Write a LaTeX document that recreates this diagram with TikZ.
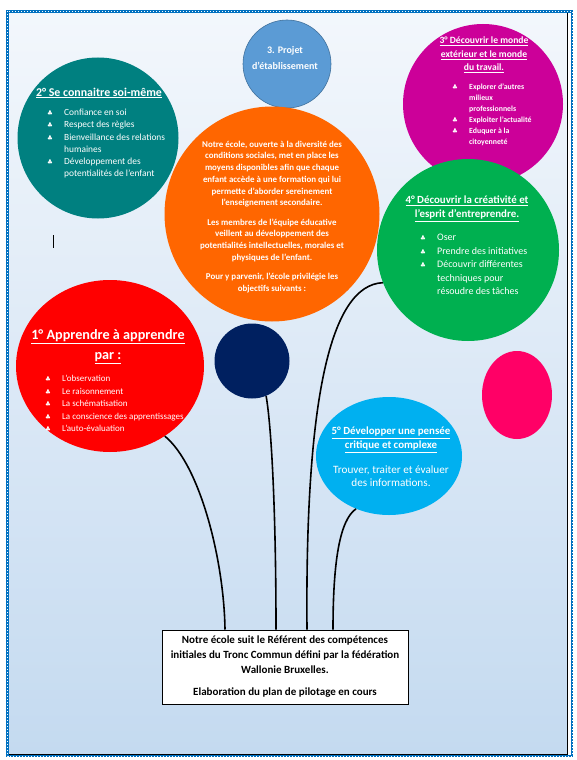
\documentclass[tikz,border=0pt]{standalone}
\usepackage{fontspec}
\setmainfont{Carlito}
\newfontfamily\symfont{DejaVu Sans}
\usetikzlibrary{calc, shapes.geometric}
\definecolor{cadrecol}{RGB}{0, 112, 192}
\definecolor{fondhaut}{RGB}{243, 247, 252}
\definecolor{fondbas}{RGB}{196, 218, 240}
\definecolor{soicol}{RGB}{0, 128, 128}
\definecolor{projetcol}{RGB}{91, 155, 213}
\definecolor{projetbord}{RGB}{65, 113, 156}
\definecolor{mondecol}{RGB}{204, 0, 153}
\definecolor{centrecol}{RGB}{255, 102, 0}
\definecolor{creatcol}{RGB}{0, 176, 80}
\definecolor{apprcol}{RGB}{255, 0, 0}
\definecolor{navycol}{RGB}{0, 32, 96}
\definecolor{rosecol}{RGB}{255, 0, 102}
\definecolor{critcol}{RGB}{0, 176, 240}
\newcommand{\clubsym}{{\symfont\fontsize{6.5}{7}\selectfont ♣}}
\newcommand{\itm}[1]{\makebox[17pt][l]{\clubsym}#1}
\newcommand{\cnt}{\hspace*{17pt}}
\tikzset{
  bulle/.style  = {circle, draw=none, inner sep=0pt},
  ovale/.style  = {ellipse, draw=none, inner sep=0pt},
  titre/.style  = {text=white, align=center, inner sep=0pt},
  liste/.style  = {text=white, align=left, inner sep=0pt, anchor=north west},
  tige/.style   = {draw=black, line width=1.6pt},
  cadre/.style  = {draw=cadrecol, line width=2.6pt},
  motif/.style  = {draw=white, line width=0.9pt, dash pattern=on 1pt off 2pt},
  boite/.style  = {draw=black, line width=1pt, fill=white, align=center,
                   minimum width=246pt, minimum height=74pt, inner sep=0pt},
}
\begin{document}
\begin{tikzpicture}[x=1pt, y=-1pt]
  \useasboundingbox (0,0) rectangle (576,760);

  %% ---------------- page ----------------
  \shade[top color=fondhaut, bottom color=fondbas] (8,12) rectangle (567,754);
  \draw[line width=1pt] (567,12) -- (567,754) -- (8,754);
  \draw[cadre] (7.5,11.5) rectangle (572,756);
  \draw[motif] (7.5,11.5) rectangle (572,756);
  % stray text cursor
  \coordinate (curseur) at (53,235);
  \draw[line width=0.9pt] (curseur) -- ++(0,13);

  %% ---------------- bubbles ----------------
  \node[bulle, fill=soicol, minimum size=161pt] (soi) at (98,138) {};
  \node[bulle, fill=projetcol, draw=projetbord, line width=0.6pt,
        minimum size=88pt] (projet) at (287,64) {};
  \node[bulle, fill=mondecol, minimum size=160pt] (monde) at (483,104) {};
  \node[bulle, fill=centrecol, minimum size=215pt] (centre) at (272,214) {};
  \node[bulle, fill=creatcol, minimum size=182pt] (creat) at (468,250) {};
  \node[ovale, fill=apprcol, minimum width=188pt, minimum height=172pt]
       (apprendre) at (110,366) {};
  \node[bulle, fill=navycol, minimum size=75pt] (navy) at (252,361) {};
  \node[ovale, fill=rosecol, minimum width=70pt, minimum height=88pt]
       (rose) at (517,395) {};
  \node[ovale, fill=critcol, minimum width=146pt, minimum height=118pt]
       (critique) at (389,456) {};

  %% ---------------- texts ----------------
  \node[titre, font={\bfseries\fontsize{11.9}{14}\selectfont}] (soiT) at (99,93)
       {\underline{2° Se connaitre soi-même}};
  \node[liste, font={\fontsize{9.4}{12.2}\selectfont}] (soiL) at (47,109)
       {\itm{Confiance en soi}\\
        \itm{Respect des règles}\\
        \itm{Bienveillance des relations}\\
        \cnt humaines\\
        \itm{Développement des}\\
        \cnt potentialités de l’enfant};

  \node[titre, font={\bfseries\fontsize{10}{16}\selectfont}] (projetT) at (285,58)
       {3. Projet\\d’établissement};

  \node[titre, font={\bfseries\fontsize{9.6}{13.5}\selectfont}] (mondeT) at (484,55)
       {\underline{3° Découvrir le monde}\\
        \underline{extérieur et le monde}\\
        \underline{du travail.}};
  \node[liste, font={\bfseries\fontsize{7.8}{11}\selectfont}] (mondeL) at (452,84)
       {\itm{Explorer d’autres}\\
        \cnt milieux\\
        \cnt professionnels\\
        \itm{Exploiter l’actualité}\\
        \itm{Eduquer à la}\\
        \cnt citoyenneté};

  \node[titre, font={\bfseries\fontsize{8.9}{11.7}\selectfont}] (centreT) at (272,217)
       {Notre école, ouverte à la diversité des\\
        conditions sociales, met en place les\\
        moyens disponibles afin que chaque\\
        enfant accède à une formation qui lui\\
        permette d’aborder sereinement\\
        l’enseignement secondaire.\\[7.8pt]
        Les membres de l’équipe éducative\\
        veillent au développement des\\
        potentialités intellectuelles, morales et\\
        physiques de l’enfant.\\[7.8pt]
        Pour y parvenir, l’école privilégie les\\
        objectifs suivants :};

  \node[titre, font={\bfseries\fontsize{10.9}{14}\selectfont}] (creatT) at (467,209)
       {\underline{4° Découvrir la créativité et}\\
        \underline{l’esprit d’entreprendre.}};
  \node[liste, font={\fontsize{10}{13.5}\selectfont}] (creatL) at (420,234)
       {\itm{Oser}\\
        \itm{Prendre des initiatives}\\
        \itm{Découvrir différentes}\\
        \cnt techniques pour\\
        \cnt résoudre des tâches};

  \node[titre, font={\bfseries\fontsize{14.2}{20}\selectfont}] (apprT) at (108,347)
       {\underline{1° Apprendre à apprendre}\\
        \underline{par :}};
  \node[liste, font={\fontsize{9}{12.5}\selectfont}] (apprL) at (45,375)
       {\itm{L’observation}\\
        \itm{Le raisonnement}\\
        \itm{La schématisation}\\
        \itm{La conscience des apprentissages}\\
        \itm{L’auto-évaluation}};

  \node[titre, font={\bfseries\fontsize{10.9}{14}\selectfont}] (critT) at (391,440)
       {\underline{5° Développer une pensée}\\
        \underline{critique et complexe}};
  \node[titre, font={\fontsize{11.2}{12.5}\selectfont}] (critL) at (391,476)
       {Trouver, traiter et évaluer\\des informations.};

  %% ---------------- referent box ----------------
  \node[boite, font={\bfseries\fontsize{11}{15}\selectfont}] (referent) at (285,667)
       {Notre école suit le Référent des compétences\\
        initiales du Tronc Commun défini par la fédération\\
        Wallonie Bruxelles.\\[7pt]
        Elaboration du plan de pilotage en cours};

  \coordinate (p1) at ([xshift=-60pt]referent.north);
  \coordinate (p2) at ([xshift=-9pt]referent.north);
  \coordinate (p3) at ([xshift=22pt]referent.north);
  \coordinate (p4) at ([xshift=48pt]referent.north);

  %% ---------------- stems ----------------
  \draw[tige] (apprendre.-52) .. controls (200,465) and (224,560) .. (p1);
  \draw[tige] (navy.-68) .. controls (272,430) and (276,520) .. (p2);
  \draw[tige] (creat.201) .. controls (330,285) and (305,400) .. (p3);
  \draw[tige] (critique.238) .. controls (340,520) and (333,560) .. (p4);

\end{tikzpicture}
\end{document}
